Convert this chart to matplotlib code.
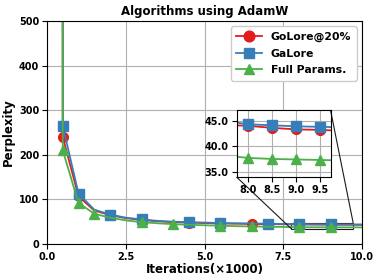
import numpy as np
import matplotlib.pyplot as plt
from mpl_toolkits.axes_grid1.inset_locator import mark_inset

plt.rcParams['font.weight'] = 'bold'
plt.rcParams['axes.labelweight'] = 'bold'
plt.rcParams['axes.titleweight'] = 'bold'

# iterations (x1000)
iters = [0.48, 0.5, 1.0, 1.5, 2.0, 2.5, 3.0, 3.5, 4.0, 4.5, 5.0, 5.5, 6.0, 6.5, 7.0, 7.5, 8.0, 8.5, 9.0, 9.5, 10.0]
golore = [5000, 240, 107, 75, 65, 58, 54, 51, 49, 48, 47, 46, 45.5, 45, 44.5, 44.2, 44.0, 43.6, 43.3, 43.2, 43.0]
galore = [5000, 265, 113, 77, 66, 59, 55, 52, 50, 49, 48, 47, 46.5, 46, 45.5, 45, 44.3, 44.1, 43.9, 43.8, 43.7]
full = [5000, 210, 92, 68, 59, 53, 49, 46.5, 44.5, 43, 42, 41, 40, 39.3, 38.7, 38.2, 37.7, 37.5, 37.4, 37.3, 37.2]

# which points carry a marker
mk_golore = [1, 2, 4, 6, 9, 11, 13, 16, 18]
mk_galore = [1, 2, 4, 6, 9, 11, 14, 16, 18]
mk_full = [1, 2, 3, 6, 8, 11, 13, 16, 18]

labels = ['GoLore@20%', 'GaLore', 'Full Params.']
colors = ['#e41a1c', '#377eb8', '#4daf4a']
markers = ['o', 's', '^']
series = [golore, galore, full]
marks = [mk_golore, mk_galore, mk_full]

fig = plt.figure(figsize=(3.74, 2.75), dpi=100)
ax = fig.add_axes([47/374, 1-244/275, 315/374, 223/275])
for y, c, m, lab, mk in zip(series, colors, markers, labels, marks):
    ax.plot(iters, y, color=c, marker=m, markevery=mk, markersize=7, lw=1.3, label=lab)
ax.set_xlim(0, 10)
ax.set_ylim(0, 500)
ax.set_xticks([0, 2.5, 5, 7.5, 10])
ax.set_yticks([0, 100, 200, 300, 400, 500])
ax.tick_params(labelsize=7, pad=2)
ax.grid(True, color='#b0b0b0', lw=0.8)
ax.set_xlabel('Iterations(×1000)', fontsize=8.5, labelpad=1)
ax.set_ylabel('Perplexity', fontsize=8.5, labelpad=3)
ax.set_title('Algorithms using AdamW', fontsize=8.5, pad=4)
ax.legend(loc='upper right', fontsize=7.8, framealpha=1, handlelength=2.4,
          borderpad=0.5, labelspacing=0.6, markerscale=1.1)

axins = fig.add_axes([236.5/374, 1-177/275, 94/374, 67/275])
for y, c, m, mk in zip(series, colors, markers, marks):
    axins.plot(iters, y, color=c, marker=m, markevery=[16, 17, 18, 19], markersize=7, lw=1.3)
axins.set_xlim(7.76, 9.72)
axins.set_ylim(33.96, 47.1)
axins.set_xticks([8.0, 8.5, 9.0, 9.5])
axins.set_yticks([35.0, 40.0, 45.0])
axins.set_xticklabels(['8.0', '8.5', '9.0', '9.5'])
axins.set_yticklabels(['35.0', '40.0', '45.0'])
axins.tick_params(labelsize=7, pad=2)
axins.grid(True, color='#b0b0b0', lw=0.8)
mark_inset(ax, axins, loc1=1, loc2=3, fc='none', ec='0.1', lw=0.8)

plt.savefig('out.png', dpi=100)
